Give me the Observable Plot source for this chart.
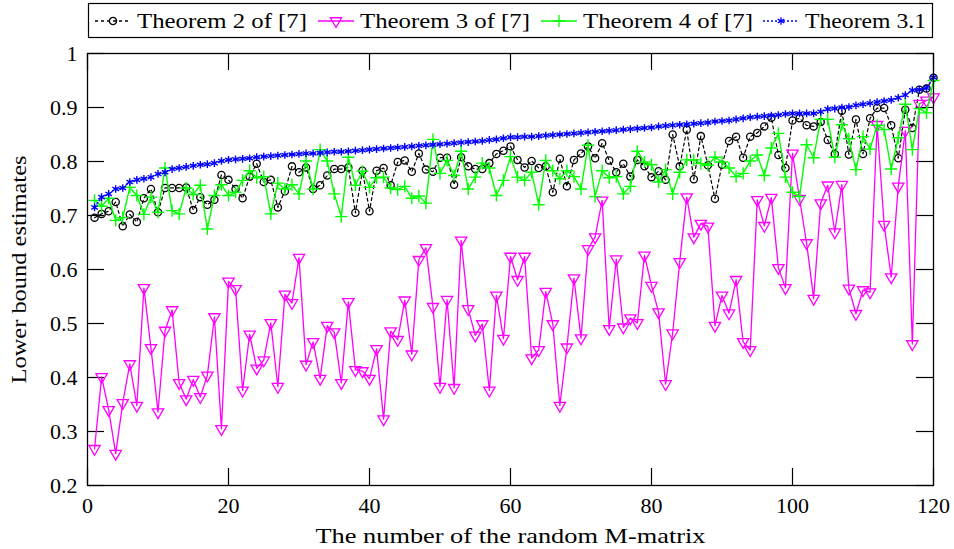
<!DOCTYPE html>
<html><head><meta charset="utf-8">
<script src="https://cdn.jsdelivr.net/npm/d3@7"></script>
<script src="https://cdn.jsdelivr.net/npm/@observablehq/plot@0.6"></script>
<style>
body{margin:0;background:#fff;}
#wrap{position:relative;width:954px;height:549px;overflow:hidden;}
#legend{position:absolute;left:0;top:0;}
#chart{position:absolute;left:0;top:40px;}
</style></head><body>
<div id="wrap"><svg id="legend" width="954" height="40"></svg><div id="chart"></div></div>
<script>
const matrixNo = d3.range(1, 121);

const thm2 = [0.696,0.703,0.708,0.725,0.680,0.702,0.688,0.732,0.749,0.706,
0.751,0.751,0.751,0.752,0.710,0.734,0.720,0.729,0.775,0.766,
0.749,0.732,0.772,0.796,0.762,0.766,0.715,0.745,0.791,0.780,
0.789,0.749,0.756,0.774,0.786,0.786,0.789,0.705,0.783,0.708,
0.783,0.788,0.756,0.799,0.802,0.781,0.815,0.785,0.781,0.807,
0.807,0.757,0.808,0.791,0.786,0.786,0.797,0.814,0.820,0.828,
0.803,0.789,0.801,0.788,0.791,0.743,0.805,0.754,0.803,0.815,
0.828,0.806,0.834,0.802,0.780,0.796,0.772,0.803,0.791,0.771,
0.782,0.766,0.850,0.791,0.859,0.767,0.847,0.793,0.731,0.794,
0.838,0.846,0.807,0.846,0.853,0.865,0.881,0.812,0.788,0.876,
0.880,0.867,0.865,0.873,0.840,0.814,0.894,0.813,0.878,0.814,
0.880,0.899,0.899,0.867,0.806,0.896,0.862,0.933,0.935,0.955];

const thm3 = [0.268,0.401,0.340,0.259,0.353,0.425,0.348,0.566,0.455,0.336,
0.487,0.525,0.390,0.360,0.396,0.364,0.404,0.512,0.305,0.578,
0.564,0.376,0.480,0.417,0.432,0.501,0.383,0.554,0.538,0.622,
0.424,0.466,0.398,0.496,0.484,0.390,0.540,0.414,0.412,0.398,
0.453,0.323,0.486,0.470,0.543,0.443,0.618,0.640,0.531,0.383,
0.544,0.381,0.654,0.527,0.478,0.499,0.376,0.552,0.472,0.624,
0.581,0.624,0.436,0.451,0.559,0.499,0.348,0.456,0.584,0.473,
0.638,0.660,0.728,0.490,0.619,0.493,0.510,0.501,0.626,0.570,
0.521,0.388,0.482,0.614,0.734,0.660,0.685,0.680,0.496,0.552,
0.519,0.581,0.466,0.451,0.729,0.681,0.733,0.603,0.566,0.815,
0.731,0.649,0.546,0.723,0.756,0.669,0.757,0.565,0.518,0.562,
0.558,0.868,0.683,0.586,0.754,0.857,0.462,0.907,0.913,0.919];

const thm4 = [0.728,0.717,0.732,0.691,0.696,0.752,0.737,0.702,0.734,0.706,
0.788,0.709,0.703,0.751,0.739,0.756,0.675,0.737,0.757,0.737,
0.743,0.765,0.783,0.770,0.772,0.703,0.760,0.749,0.757,0.740,
0.801,0.749,0.822,0.801,0.740,0.698,0.808,0.756,0.782,0.752,
0.770,0.771,0.751,0.748,0.754,0.732,0.736,0.723,0.841,0.778,
0.802,0.774,0.819,0.749,0.771,0.797,0.788,0.737,0.765,0.809,
0.771,0.765,0.780,0.720,0.802,0.783,0.768,0.783,0.772,0.749,
0.830,0.735,0.783,0.770,0.772,0.740,0.754,0.819,0.799,0.794,
0.762,0.785,0.740,0.780,0.803,0.803,0.796,0.793,0.808,0.799,
0.788,0.772,0.778,0.801,0.812,0.774,0.825,0.852,0.771,0.743,
0.735,0.831,0.807,0.878,0.878,0.808,0.868,0.842,0.785,0.846,
0.823,0.867,0.859,0.786,0.844,0.906,0.822,0.898,0.890,0.950];

const thm31 = [0.715,0.734,0.740,0.749,0.751,0.762,0.766,0.768,0.771,0.777,
0.780,0.786,0.788,0.790,0.792,0.794,0.795,0.797,0.801,0.803,
0.804,0.805,0.806,0.808,0.809,0.810,0.811,0.812,0.813,0.814,
0.815,0.815,0.816,0.817,0.818,0.818,0.819,0.820,0.821,0.822,
0.823,0.824,0.825,0.826,0.827,0.828,0.829,0.830,0.831,0.832,
0.833,0.834,0.835,0.836,0.837,0.838,0.840,0.841,0.843,0.845,
0.845,0.846,0.846,0.847,0.848,0.849,0.850,0.851,0.852,0.853,
0.854,0.855,0.856,0.857,0.858,0.859,0.860,0.861,0.862,0.863,
0.865,0.866,0.867,0.868,0.869,0.870,0.871,0.872,0.874,0.875,
0.876,0.878,0.880,0.882,0.883,0.884,0.885,0.886,0.888,0.889,
0.889,0.889,0.889,0.892,0.897,0.898,0.900,0.901,0.904,0.906,
0.908,0.910,0.912,0.914,0.918,0.923,0.932,0.933,0.936,0.956];

const seriesNames = ["Theorem 2 of [7]", "Theorem 3 of [7]", "Theorem 4 of [7]", "Theorem 3.1"];
const xTicks = [0, 20, 40, 60, 80, 100, 120];
const yTicks = [0.2, 0.3, 0.4, 0.5, 0.6, 0.7, 0.8, 0.9, 1];
const xLabel = "The number of the random M-matrix";
const yLabel = "Lower bound estimates";

const rows = arr => matrixNo.map((x, i) => ({x, y: arr[i]}));
const d2 = rows(thm2), d3r = rows(thm3), d4 = rows(thm4), d31 = rows(thm31);

const FONT = "Liberation Serif";
const W = 954, H = 509, ML = 87, MR = 21, MT = 13, MB = 64;
const fw = W - ML - MR, fh = H - MT - MB, TK = 17;

const chart = Plot.plot({
  width: W, height: H,
  marginLeft: ML, marginRight: MR, marginTop: MT, marginBottom: MB,
  style: {fontFamily: FONT, fontSize: "22px", color: "#000", background: "#fff", overflow: "visible"},
  x: {domain: [0, 120], label: null},
  y: {domain: [0.2, 1], label: null},
  marks: [
    Plot.tickY(yTicks, {y: d => d, stroke: "#000", strokeWidth: 1.2, insetRight: fw - TK}),
    Plot.tickY(yTicks, {y: d => d, stroke: "#000", strokeWidth: 1.2, insetLeft: fw - TK}),
    Plot.tickX(xTicks, {x: d => d, stroke: "#000", strokeWidth: 1.2, insetTop: fh - TK}),
    Plot.tickX(xTicks, {x: d => d, stroke: "#000", strokeWidth: 1.2, insetBottom: fh - TK}),
    Plot.axisX({ticks: xTicks, tickSize: 0, tickPadding: 12, tickFormat: d => String(d), fontSize: 22}),
    Plot.axisY({ticks: yTicks, tickSize: 0, tickPadding: 10, tickFormat: d => d === 1 ? "1" : d.toFixed(1), fontSize: 22}),
    Plot.line(d2, {x: "x", y: "y", stroke: "#000", strokeWidth: 1.2, strokeDasharray: "3,3"}),
    Plot.dot(d2, {x: "x", y: "y", r: 3.6, stroke: "#000", strokeWidth: 1.3, fill: "none"}),
    Plot.line(d3r, {x: "x", y: "y", stroke: "#ff00ff", strokeWidth: 1.3}),
    Plot.dot(d3r, {x: "x", y: "y", symbol: "triangle", rotate: 180, r: 4.2, stroke: "#ff00ff", strokeWidth: 1.3, fill: "none"}),
    Plot.line(d4, {x: "x", y: "y", stroke: "#00ff00", strokeWidth: 1.4}),
    Plot.dot(d4, {x: "x", y: "y", symbol: "plus", r: 4, stroke: "#00ff00", strokeWidth: 1.4}),
    Plot.line(d31, {x: "x", y: "y", stroke: "#0000ff", strokeWidth: 1.2, strokeDasharray: "2,2"}),
    Plot.dot(d31, {x: "x", y: "y", symbol: "asterisk", r: 3.6, stroke: "#0000ff", strokeWidth: 1.4}),
    Plot.frame({stroke: "#000", strokeWidth: 1.3}),
    Plot.text([xLabel], {frameAnchor: "bottom", lineAnchor: "middle", textAnchor: "middle", dy: 50, fontSize: 22, text: d => d}),
    Plot.text([yLabel], {frameAnchor: "left", lineAnchor: "middle", textAnchor: "middle", dx: -69, rotate: -90, fontSize: 22, text: d => d})
  ]
});
document.getElementById("chart").appendChild(chart);
d3.select(chart).selectAll("text").filter(function() { return this.textContent === xLabel; })
  .attr("textLength", 390).attr("lengthAdjust", "spacingAndGlyphs");
d3.select(chart).selectAll("text").filter(function() { return this.textContent === yLabel; })
  .attr("textLength", 228).attr("lengthAdjust", "spacingAndGlyphs");

const lg = d3.select("#legend");
lg.append("rect").attr("x", 88.5).attr("y", 3.5).attr("width", 844).attr("height", 34)
  .attr("fill", "#fff").attr("stroke", "#000").attr("stroke-width", 1.2);
const legendItems = [
  {name: seriesNames[0], color: "#000", dash: "3,3", sym: d3.symbolCircle, r: 3.6, rot: 0, x0: 95, tx: 137, len: 170},
  {name: seriesNames[1], color: "#ff00ff", dash: null, sym: d3.symbolTriangle, r: 4.2, rot: 180, x0: 318, tx: 360, len: 170},
  {name: seriesNames[2], color: "#00ff00", dash: null, sym: d3.symbolPlus, r: 4, rot: 0, x0: 541, tx: 583, len: 170},
  {name: seriesNames[3], color: "#0000ff", dash: "2,2", sym: d3.symbolAsterisk, r: 3.6, rot: 0, x0: 763, tx: 805, len: 121}
];
const ly = 21;
for (const it of legendItems) {
  lg.append("line").attr("x1", it.x0).attr("x2", it.x0 + 36).attr("y1", ly).attr("y2", ly)
    .attr("stroke", it.color).attr("stroke-width", 1.3).attr("stroke-dasharray", it.dash);
  lg.append("path").attr("d", d3.symbol(it.sym, Math.PI * it.r * it.r)())
    .attr("transform", `translate(${it.x0 + 18},${ly}) rotate(${it.rot})`)
    .attr("fill", "none").attr("stroke", it.color).attr("stroke-width", 1.3);
  lg.append("text").attr("x", it.tx).attr("y", ly + 7).text(it.name)
    .style("font-family", FONT).attr("font-size", 22).attr("fill", "#000")
    .attr("textLength", it.len).attr("lengthAdjust", "spacingAndGlyphs");
}
</script>
</body></html>
